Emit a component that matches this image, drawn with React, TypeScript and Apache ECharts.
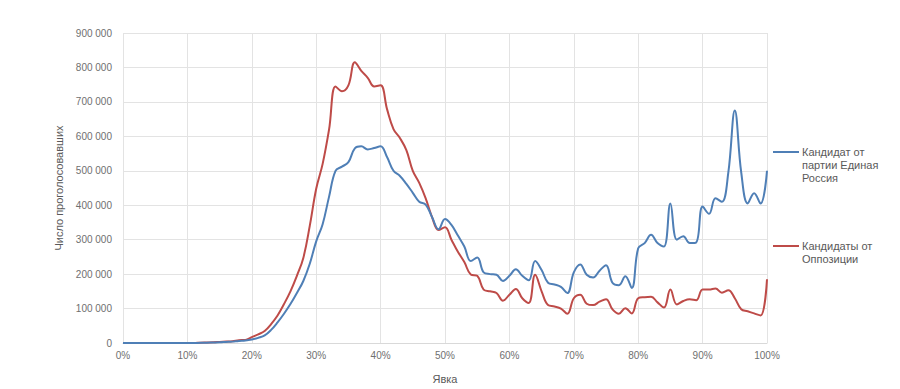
import React, { useEffect, useRef } from "react";
import * as echarts from "echarts";

const turnout: number[] = Array.from({ length: 101 }, (_, i) => i);

const unitedRussia: number[] = [
  0, 0, 0, 0, 0, 0, 0, 0, 0, 0,
  0, 0, 500, 1000, 1500, 2000, 3000, 4000, 6000, 7000,
  10000, 15000, 22000, 38000, 60000, 85000, 113000, 145000, 180000, 230000,
  295000, 345000, 425000, 500000, 512000, 525000, 565000, 571000, 562000, 566000,
  571000, 540000, 500000, 485000, 462000, 436000, 410000, 402000, 365000, 330000,
  360000, 343000, 312000, 280000, 238000, 248000, 205000, 200000, 198000, 180000,
  195000, 214000, 195000, 182000, 238000, 212000, 175000, 170000, 163000, 145000,
  205000, 228000, 198000, 190000, 210000, 226000, 175000, 168000, 194000, 160000,
  275000, 290000, 314000, 290000, 280000, 405000, 300000, 310000, 290000, 292000,
  396000, 375000, 420000, 410000, 496000, 675000, 495000, 405000, 435000, 405000,
  500000,
];

const opposition: number[] = [
  0, 0, 0, 0, 0, 0, 0, 0, 0, 0,
  0, 0, 1000, 1500, 2000, 3000, 4000, 5000, 8000, 9000,
  17000, 25000, 35000, 55000, 80000, 113000, 150000, 195000, 247000, 340000,
  448000, 520000, 620000, 745000, 731000, 748000, 815000, 790000, 770000, 745000,
  748000, 679000, 621000, 595000, 560000, 500000, 465000, 420000, 365000, 328000,
  336000, 300000, 265000, 235000, 199000, 195000, 155000, 150000, 145000, 123000,
  140000, 157000, 130000, 116000, 198000, 150000, 110000, 106000, 100000, 85000,
  130000, 140000, 114000, 110000, 120000, 127000, 98000, 85000, 101000, 86000,
  130000, 133000, 134000, 118000, 103000, 155000, 112000, 122000, 127000, 124000,
  155000, 155000, 158000, 146000, 153000, 130000, 98000, 92000, 86000, 80000,
  185000,
];

const seriesNames = ["Кандидат от партии Единая Россия", "Кандидаты от Оппозиции"];
const legendLines = [
  ["Кандидат от", "партии Единая", "Россия"],
  ["Кандидаты от", "Оппозиции"],
];
const colors = ["#4F7FB6", "#BE4B48"];
const yAxisName = "Число проголосовавших";
const xAxisName = "Явка";

export default function App() {
  const ref = useRef<HTMLDivElement>(null);
  useEffect(() => {
    if (!ref.current) return;
    const chart = echarts.init(ref.current, undefined, { renderer: "svg" });
    const font = "Liberation Sans, Arial, sans-serif";
    const labelColor = "#6f6f6f";
    const legendGraphics: any[] = [];
    const legendY = [152, 246];
    legendLines.forEach((lines, i) => {
      legendGraphics.push({
        type: "line",
        shape: { x1: 773, y1: legendY[i], x2: 799, y2: legendY[i] },
        style: { stroke: colors[i], lineWidth: 2 },
      });
      legendGraphics.push({
        type: "text",
        x: 802,
        y: legendY[i] - 6.5,
        style: {
          text: lines.join("\n"),
          font: `11px ${font}`,
          fill: "#595959",
          lineHeight: 13,
          textVerticalAlign: "top",
        },
      });
    });
    chart.setOption({
      animation: false,
      backgroundColor: "#ffffff",
      grid: { left: 123, right: 133, top: 33, bottom: 43, containLabel: false },
      xAxis: {
        type: "value",
        min: 0,
        max: 100,
        interval: 10,
        name: xAxisName,
        nameLocation: "middle",
        nameGap: 30,
        nameTextStyle: { color: "#595959", fontSize: 11, fontFamily: font },
        axisLine: { show: true, lineStyle: { color: "#d9d9d9" } },
        axisTick: { show: false },
        axisLabel: {
          color: labelColor,
          fontSize: 10,
          fontFamily: font,
          margin: 7,
          formatter: (v: number) => `${v}%`,
        },
        splitLine: { show: true, lineStyle: { color: "#e3e3e3" } },
      },
      yAxis: {
        type: "value",
        min: 0,
        max: 900000,
        interval: 100000,
        name: yAxisName,
        nameLocation: "middle",
        nameGap: 57,
        nameRotate: 90,
        nameTextStyle: { color: "#595959", fontSize: 11, fontFamily: font },
        axisLine: { show: false },
        axisTick: { show: false },
        axisLabel: {
          color: labelColor,
          fontSize: 10,
          fontFamily: font,
          margin: 11,
          formatter: (v: number) =>
            String(v).replace(/\B(?=(\d{3})+(?!\d))/g, " "),
        },
        splitLine: { show: true, lineStyle: { color: "#e3e3e3" } },
      },
      series: [
        {
          name: seriesNames[0],
          type: "line",
          data: turnout.map((t, i) => [t, unitedRussia[i]]),
          smooth: 0.4,
          showSymbol: false,
          lineStyle: { color: colors[0], width: 2 },
          itemStyle: { color: colors[0] },
          z: 3,
        },
        {
          name: seriesNames[1],
          type: "line",
          data: turnout.map((t, i) => [t, opposition[i]]),
          smooth: 0.4,
          showSymbol: false,
          lineStyle: { color: colors[1], width: 2 },
          itemStyle: { color: colors[1] },
          z: 2,
        },
      ],
      graphic: legendGraphics,
    });
    return () => chart.dispose();
  }, []);
  return (
    <div
      ref={ref}
      style={{ position: "fixed", left: 0, top: 0, width: 900, height: 389, background: "#fff" }}
    />
  );
}
